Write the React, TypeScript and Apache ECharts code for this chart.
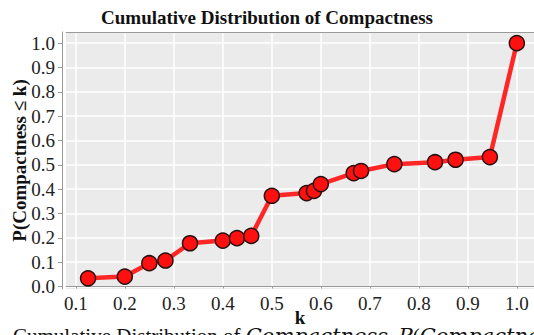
import React, { useEffect, useRef } from "react";
import * as echarts from "echarts";

const kValues = [0.125, 0.2, 0.25, 0.283, 0.333, 0.4, 0.429, 0.458, 0.5, 0.571, 0.586, 0.6, 0.667, 0.682, 0.75, 0.833, 0.875, 0.945, 1.0];
const pValues = [0.034, 0.041, 0.096, 0.107, 0.178, 0.189, 0.199, 0.208, 0.373, 0.384, 0.393, 0.421, 0.466, 0.475, 0.503, 0.511, 0.521, 0.532, 1.0];
const xTicks = [0.1, 0.2, 0.3, 0.4, 0.5, 0.6, 0.7, 0.8, 0.9, 1.0];
const yTicks = [0.0, 0.1, 0.2, 0.3, 0.4, 0.5, 0.6, 0.7, 0.8, 0.9, 1.0];

const SERIF = "'Liberation Serif', 'Times New Roman', serif";
const MATH = "'DejaVu Serif', 'Liberation Serif', serif";

export default function App() {
  const ref = useRef<HTMLDivElement>(null);
  useEffect(() => {
    if (!ref.current) return;
    const chart = echarts.init(ref.current, null, { renderer: "svg" });
    const axisGray = "#9a9a9a";
    chart.setOption({
      animation: false,
      backgroundColor: "#ffffff",
      title: {
        text: "Cumulative Distribution of Compactness",
        left: "center",
        top: 3,
        textStyle: { fontFamily: SERIF, fontWeight: "bold", fontSize: 19, color: "#111" },
      },
      grid: {
        left: 66,
        right: 0,
        top: 32,
        bottom: 46,
        containLabel: false,
        outerBoundsMode: "none",
        show: true,
        backgroundColor: "#ebebeb",
        borderWidth: 0,
      },
      xAxis: [
        {
          type: "value",
          min: 0.08,
          max: 1.035,
          offset: 2,
          name: "k",
          nameLocation: "middle",
          nameGap: 17,
          nameMoveOverlap: false,
          nameTextStyle: { fontFamily: SERIF, fontWeight: "bold", fontSize: 19, color: "#111" },
          axisLine: { show: true, lineStyle: { color: axisGray, width: 1 } },
          axisTick: { show: true, length: 2, customValues: xTicks, lineStyle: { color: axisGray } },
          axisLabel: {
            customValues: xTicks,
            margin: 3,
            fontFamily: SERIF,
            fontSize: 19,
            color: "#222",
            formatter: (v: number) => v.toFixed(1),
          },
          splitLine: { show: true, lineStyle: { color: "#ffffff", width: 1.5 } },
        },
        {
          type: "value",
          position: "top",
          min: 0.08,
          max: 1.035,
          axisLine: { show: true, lineStyle: { color: axisGray, width: 1 } },
          axisTick: { show: false },
          axisLabel: { show: false },
          splitLine: { show: false },
        },
      ],
      yAxis: {
        type: "value",
        min: -0.01,
        max: 1.046,
        offset: 4,
        name: "P(Compactness ≤ k)",
        nameLocation: "middle",
        nameGap: 33,
        nameMoveOverlap: false,
        nameTextStyle: { fontFamily: SERIF, fontWeight: "bold", fontSize: 19, color: "#111" },
        axisLine: { show: true, lineStyle: { color: axisGray, width: 1 } },
        axisTick: { show: true, length: 4, customValues: yTicks, lineStyle: { color: axisGray } },
        axisLabel: {
          customValues: yTicks,
          margin: 7,
          fontFamily: SERIF,
          fontSize: 19,
          color: "#222",
          formatter: (v: number) => v.toFixed(1),
        },
        splitLine: { show: true, lineStyle: { color: "#ffffff", width: 1.5 } },
      },
      series: [
        {
          type: "line",
          data: kValues.map((k, i) => [k, pValues[i]]),
          symbol: "circle",
          symbolSize: 15,
          lineStyle: { color: "#ff2626", width: 4.5 },
          itemStyle: { color: "#ff1010", borderColor: "#2a1010", borderWidth: 1.5 },
          z: 3,
        },
      ],
      graphic: [
        {
          type: "text",
          left: 13,
          top: 325,
          z: 0,
          style: {
            text: "Cumulative Distribution of {i|Compactness}. {i|P}({i|Compactness} ≤ {i|k})",
            fontFamily: SERIF,
            fontSize: 21,
            fill: "#111",
            rich: {
              i: { fontFamily: MATH, fontStyle: "italic", fontSize: 21, fill: "#111" },
            },
          },
        },
      ],
    });
    return () => chart.dispose();
  }, []);
  return (
    <div
      ref={ref}
      style={{ position: "absolute", left: 0, top: 0, width: 534, height: 335 }}
    />
  );
}
